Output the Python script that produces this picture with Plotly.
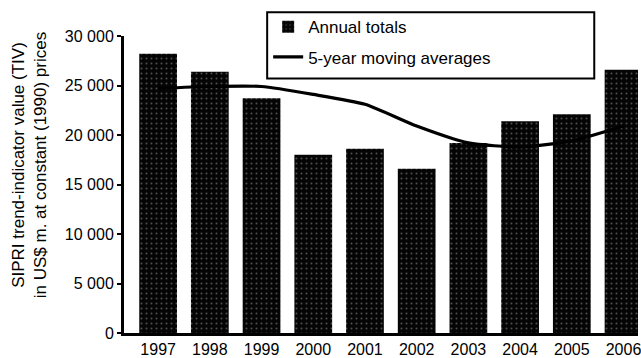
import plotly.graph_objects as go

# Arms transfers, SIPRI trend-indicator values (US$ m., constant 1990 prices)
years = ["1997", "1998", "1999", "2000", "2001", "2002", "2003", "2004", "2005", "2006"]
annual_totals = [28200, 26400, 23700, 18000, 18600, 16600, 19200, 21400, 22100, 26600]
moving_avg = [24700, 24900, 24900, 24100, 23100, 20900, 19200, 18800, 19400, 20900]
y_ticks = [0, 5000, 10000, 15000, 20000, 25000, 30000]

FONT = "Liberation Sans, Arial, sans-serif"
W, H = 641, 358
ML, MR, MT, MB = 124, 0, 36, 22
plot_w = W - ML - MR
plot_h = H - MT - MB


def px_x(p):
    return (p - ML) / plot_w


def px_y(p):
    return (H - MB - p) / plot_h


fig = go.Figure()

fig.add_trace(go.Bar(
    x=years, y=annual_totals, name="Annual totals",
    legendgroup="a",
    marker=dict(
        color="#050505", line=dict(width=0),
        pattern=dict(shape=".", fillmode="overlay", fgcolor="#9a9a9a",
                     size=5, solidity=0.12),
    ),
))

fig.add_trace(go.Scatter(
    x=years, y=moving_avg, name="5-year moving averages",
    legendgroup="b",
    mode="lines", line=dict(color="black", width=3.2, shape="spline", smoothing=0.6),
))

fig.update_layout(
    width=W, height=H,
    margin=dict(l=ML, r=MR, t=MT, b=MB),
    paper_bgcolor="white", plot_bgcolor="white",
    separators=". ",
    bargap=0.27,
    font=dict(family=FONT, size=16, color="black"),
    legend=dict(
        x=px_x(269), y=px_y(9), xanchor="left", yanchor="top",
        bgcolor="rgba(0,0,0,0)", borderwidth=0,
        font=dict(size=17), traceorder="grouped", tracegroupgap=5,
    ),
    xaxis=dict(
        type="category", range=[-0.66, 9.28],
        showline=True, linecolor="black", linewidth=3,
        ticks="", showgrid=False, zeroline=False,
        tickfont=dict(size=16),
    ),
    yaxis=dict(
        range=[0, 30000], tickvals=y_ticks, tickformat=",d",
        showline=True, linecolor="black", linewidth=3,
        ticks="outside", ticklen=4, tickwidth=2, tickcolor="black",
        showgrid=False, zeroline=False,
        tickfont=dict(size=16),
    ),
    shapes=[dict(
        type="rect", xref="paper", yref="paper",
        x0=px_x(268), x1=px_x(597), y0=px_y(79), y1=px_y(12),
        line=dict(color="black", width=2), fillcolor="rgba(0,0,0,0)",
    )],
    annotations=[dict(
        text="SIPRI trend-indicator value (TIV)<br>in US$ m. at constant (1990) prices",
        xref="paper", yref="paper", x=px_x(29), y=px_y(167),
        xanchor="center", yanchor="middle", textangle=-90,
        showarrow=False, font=dict(size=17),
    )],
)

fig.write_html("out.html")
